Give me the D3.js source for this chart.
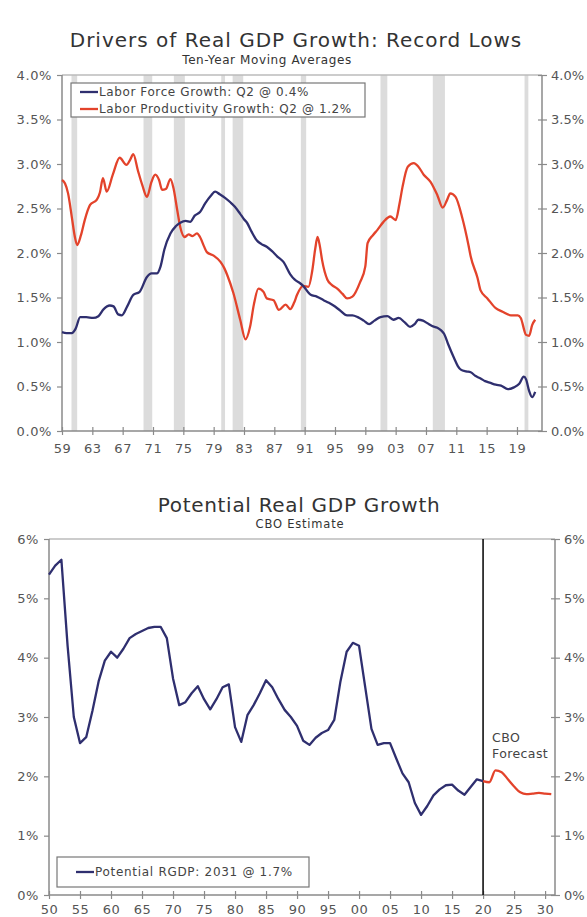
<!DOCTYPE html>
<html>
<head>
<meta charset="utf-8">
<script src="https://cdn.jsdelivr.net/npm/d3@7"></script>
<style>
  body { margin: 0; background: #fff; }
  svg { display: block; font-family: "DejaVu Sans", Verdana, sans-serif; }
</style>
</head>
<body>
<svg id="chart" width="587" height="917"></svg>
<script>
// ---- top chart data: ten-year moving averages, % ----
const lfYears = [1959.0,1959.6,1960.3,1960.8,1961.4,1962.2,1963.1,1963.8,1964.5,1965.3,1965.8,1966.4,1966.9,1967.6,1968.4,1969.2,1970.2,1970.8,1971.5,1972.0,1972.5,1973.3,1974.0,1974.6,1975.3,1975.9,1976.5,1977.2,1977.9,1978.6,1979.2,1979.8,1980.5,1981.2,1981.8,1982.5,1983.0,1983.4,1984.0,1984.7,1985.3,1986.0,1986.7,1987.4,1988.2,1989.1,1989.7,1990.4,1990.8,1991.8,1992.6,1993.5,1994.2,1994.8,1995.6,1996.6,1997.3,1998.0,1998.8,1999.5,2000.2,2001.0,2001.9,2002.7,2003.4,2004.2,2004.9,2005.5,2006.0,2006.6,2007.2,2007.8,2008.5,2009.0,2009.4,2009.9,2010.7,2011.2,2011.6,2012.3,2012.9,2013.5,2014.2,2014.8,2015.5,2016.2,2016.9,2017.8,2018.6,2019.3,2019.9,2020.2,2020.6,2021.0,2021.4];
const lfValues = [1.11,1.10,1.10,1.15,1.28,1.28,1.27,1.29,1.37,1.41,1.40,1.31,1.30,1.40,1.53,1.56,1.73,1.77,1.77,1.85,2.04,2.22,2.30,2.34,2.36,2.35,2.42,2.46,2.56,2.64,2.69,2.66,2.62,2.57,2.52,2.44,2.38,2.34,2.24,2.14,2.10,2.07,2.02,1.96,1.90,1.76,1.70,1.66,1.63,1.53,1.51,1.47,1.44,1.41,1.36,1.30,1.30,1.28,1.24,1.20,1.24,1.28,1.29,1.25,1.27,1.22,1.17,1.20,1.25,1.24,1.21,1.18,1.16,1.13,1.09,0.98,0.82,0.73,0.69,0.67,0.66,0.62,0.59,0.56,0.54,0.52,0.51,0.47,0.49,0.53,0.61,0.58,0.45,0.38,0.44];

const lpYears = [1959.0,1959.4,1959.8,1960.3,1960.7,1961.0,1961.5,1962.0,1962.7,1963.6,1964.0,1964.4,1964.9,1965.7,1966.6,1967.5,1968.0,1968.4,1969.0,1969.6,1970.2,1970.8,1971.3,1971.8,1972.2,1972.7,1973.3,1973.7,1974.2,1974.6,1975.2,1975.7,1976.2,1976.8,1977.2,1977.7,1978.1,1979.0,1979.9,1980.4,1980.8,1981.6,1982.5,1983.2,1983.8,1984.3,1984.9,1985.6,1986.0,1986.9,1987.6,1988.5,1989.1,1989.6,1990.0,1990.8,1991.5,1992.0,1992.4,1992.7,1993.0,1993.3,1994.0,1994.6,1995.3,1996.0,1996.6,1997.3,1998.3,1999.0,1999.3,2000.0,2000.6,2001.4,2002.3,2003.0,2003.5,2003.9,2004.6,2005.4,2006.0,2006.7,2007.6,2008.5,2009.2,2009.8,2010.2,2010.9,2011.8,2012.6,2012.9,2013.8,2014.2,2015.1,2016.2,2017.1,2018.2,2019.1,2019.5,2020.2,2020.6,2021.0,2021.4];
const lpValues = [2.82,2.78,2.67,2.40,2.18,2.09,2.20,2.37,2.54,2.60,2.68,2.84,2.69,2.88,3.07,2.99,3.05,3.11,2.93,2.76,2.63,2.80,2.88,2.82,2.71,2.72,2.83,2.73,2.48,2.29,2.18,2.21,2.19,2.22,2.18,2.08,2.01,1.97,1.90,1.83,1.75,1.55,1.25,1.03,1.17,1.42,1.60,1.56,1.49,1.47,1.36,1.42,1.37,1.44,1.53,1.63,1.62,1.80,2.05,2.18,2.08,1.92,1.70,1.64,1.60,1.54,1.49,1.51,1.67,1.85,2.11,2.20,2.26,2.35,2.41,2.37,2.55,2.74,2.97,3.01,2.97,2.88,2.80,2.65,2.51,2.60,2.67,2.63,2.39,2.09,1.96,1.72,1.58,1.49,1.38,1.34,1.30,1.30,1.27,1.08,1.07,1.19,1.25];

const recessions = [[1960.25,1961.0],[1969.75,1970.9],[1973.75,1975.2],[1980.0,1980.5],[1981.5,1982.9],[1990.5,1991.2],[2001.0,2001.9],[2007.9,2009.5],[2020.0,2020.5]];
const topTicksY = [0, 0.5, 1.0, 1.5, 2.0, 2.5, 3.0, 3.5, 4.0];
const topTicksX = [1959,1963,1967,1971,1975,1979,1983,1987,1991,1995,1999,2003,2007,2011,2015,2019];

// ---- bottom chart data: potential real GDP growth, % ----
const potYears = d3.range(1950, 2021);
const potValues = [5.40,5.55,5.65,4.20,3.00,2.56,2.66,3.10,3.60,3.95,4.10,4.00,4.15,4.33,4.40,4.45,4.50,4.52,4.52,4.33,3.65,3.20,3.25,3.40,3.52,3.30,3.13,3.30,3.50,3.55,2.83,2.58,3.03,3.20,3.40,3.62,3.50,3.30,3.12,3.00,2.85,2.60,2.53,2.65,2.73,2.78,2.95,3.60,4.10,4.25,4.20,3.50,2.80,2.53,2.56,2.56,2.30,2.05,1.90,1.55,1.35,1.50,1.68,1.78,1.85,1.86,1.76,1.69,1.82,1.95,1.92];
const fcYears = d3.range(2020, 2032);
const fcValues = [1.92,1.90,2.10,2.07,1.95,1.83,1.73,1.70,1.71,1.72,1.71,1.70];
const botTicksY = [0,1,2,3,4,5,6];
const botTicksX = [1950,1955,1960,1965,1970,1975,1980,1985,1990,1995,2000,2005,2010,2015,2020,2025,2030];

const BLUE = "#2f2f6f", RED = "#e3432b", AXIS = "#8a8a8a", TXT = "#555";

const svg = d3.select("#chart");

function yy(v) { return ("" + v).slice(-2).padStart(2, "0"); }

function frame(g, x, y, xTicks, yTicks, yFmt, xPad) {
  const [x0, x1] = x.range();
  const [y0, y1] = y.range();
  // top border
  g.append("line").attr("x1", x0).attr("x2", x1).attr("y1", y1).attr("y2", y1)
    .attr("stroke", "#bbb").attr("stroke-width", 1.5);
  const left = g.append("g").attr("transform", `translate(${x0},0)`)
    .call(d3.axisLeft(y).tickValues(yTicks).tickFormat(yFmt).tickSize(5).tickPadding(5));
  const right = g.append("g").attr("transform", `translate(${x1},0)`)
    .call(d3.axisRight(y).tickValues(yTicks).tickFormat(yFmt).tickSize(5).tickPadding(4));
  right.selectAll(".tick line").attr("x1", -4);
  const bottom = g.append("g").attr("transform", `translate(0,${y0})`)
    .call(d3.axisBottom(x).tickValues(xTicks).tickFormat(yy).tickSize(4).tickPadding(xPad));
  bottom.selectAll(".tick line").attr("y1", -4);
  [left, right, bottom].forEach(a => {
    a.select(".domain").attr("stroke", AXIS).attr("stroke-width", 1.5);
    a.selectAll(".tick line").attr("stroke", AXIS).attr("stroke-width", 1.2);
    a.selectAll("text").attr("fill", TXT).attr("font-size", 13).attr("letter-spacing", 0.6)
      .attr("font-family", "DejaVu Sans, Verdana, sans-serif");
  });
  // right labels sit at the page edge, keep them tight
  right.selectAll("text").attr("letter-spacing", 0);
  left.select(".domain").attr("d", `M0,${y0}V${y1}`);
  right.select(".domain").attr("d", `M0,${y0}V${y1}`);
  bottom.select(".domain").attr("d", `M${x0},0H${x1}`);
}

//----- top chart -----
const topG = svg.append("g");
const x1s = d3.scaleLinear().domain([1959, 2022.3]).range([62, 542]);
const y1s = d3.scaleLinear().domain([0, 4]).range([431, 75]);

topG.append("text").attr("x", 296).attr("y", 47).attr("text-anchor", "middle")
  .attr("font-size", 20).attr("letter-spacing", 1).attr("fill", "#333")
  .text("Drivers of Real GDP Growth: Record Lows");
topG.append("text").attr("x", 267).attr("y", 64).attr("text-anchor", "middle")
  .attr("font-size", 12).attr("letter-spacing", 0.6).attr("fill", "#333")
  .text("Ten-Year Moving Averages");

topG.selectAll("rect.rec").data(recessions).enter().append("rect")
  .attr("class", "rec")
  .attr("x", d => x1s(d[0]))
  .attr("width", d => x1s(d[1]) - x1s(d[0]))
  .attr("y", y1s(4)).attr("height", y1s(0) - y1s(4))
  .attr("fill", "#dcdcdc");

frame(topG, x1s, y1s, topTicksX, topTicksY, d => d.toFixed(1) + "%", 9);

const line1 = d3.line().x(d => x1s(d[0])).y(d => y1s(d[1])).curve(d3.curveMonotoneX);
topG.append("path").datum(d3.zip(lpYears, lpValues)).attr("d", line1)
  .attr("fill", "none").attr("stroke", RED).attr("stroke-width", 2.3);
topG.append("path").datum(d3.zip(lfYears, lfValues)).attr("d", line1)
  .attr("fill", "none").attr("stroke", BLUE).attr("stroke-width", 2.3);

const leg1 = topG.append("g");
leg1.append("rect").attr("x", 71).attr("y", 83).attr("width", 294).attr("height", 34)
  .attr("fill", "#fff").attr("stroke", "#777").attr("stroke-width", 1.2);
[["Labor Force Growth: Q2 @ 0.4%", BLUE], ["Labor Productivity Growth: Q2 @ 1.2%", RED]].forEach((d, i) => {
  const yy0 = 92 + i * 17;
  leg1.append("line").attr("x1", 80).attr("x2", 98).attr("y1", yy0).attr("y2", yy0)
    .attr("stroke", d[1]).attr("stroke-width", 2.3);
  leg1.append("text").attr("x", 99).attr("y", yy0 + 4).attr("font-size", 12)
    .attr("letter-spacing", 0.6).attr("fill", "#444").text(d[0]);
});

//----- bottom chart -----
const botG = svg.append("g");
const x2s = d3.scaleLinear().domain([1950, 2031.6]).range([49, 555]);
const y2s = d3.scaleLinear().domain([0, 6]).range([895, 539]);

botG.append("text").attr("x", 299).attr("y", 512).attr("text-anchor", "middle")
  .attr("font-size", 20).attr("letter-spacing", 0.7).attr("fill", "#333")
  .text("Potential Real GDP Growth");
botG.append("text").attr("x", 300).attr("y", 528).attr("text-anchor", "middle")
  .attr("font-size", 11.5).attr("letter-spacing", 0.8).attr("fill", "#333")
  .text("CBO Estimate");

frame(botG, x2s, y2s, botTicksX, botTicksY, d => d + "%", 6);

botG.append("line").attr("x1", x2s(2020)).attr("x2", x2s(2020))
  .attr("y1", y2s(6)).attr("y2", y2s(0)).attr("stroke", "#111").attr("stroke-width", 1.6);

const line2 = d3.line().x(d => x2s(d[0])).y(d => y2s(d[1]));
botG.append("path").datum(d3.zip(potYears, potValues)).attr("d", line2)
  .attr("fill", "none").attr("stroke", BLUE).attr("stroke-width", 2.3).attr("stroke-linejoin", "round");
botG.append("path").datum(d3.zip(fcYears, fcValues)).attr("d", line2.curve(d3.curveMonotoneX))
  .attr("fill", "none").attr("stroke", RED).attr("stroke-width", 2.3);

botG.append("text").attr("x", 492).attr("y", 742).attr("font-size", 12.5)
  .attr("letter-spacing", 0.4).attr("fill", "#444").text("CBO");
botG.append("text").attr("x", 492).attr("y", 758).attr("font-size", 12.5)
  .attr("letter-spacing", 0.4).attr("fill", "#444").text("Forecast");

const leg2 = botG.append("g");
leg2.append("rect").attr("x", 57).attr("y", 857).attr("width", 252).attr("height", 30)
  .attr("fill", "#fff").attr("stroke", "#777").attr("stroke-width", 1.2);
leg2.append("line").attr("x1", 76).attr("x2", 94).attr("y1", 872).attr("y2", 872)
  .attr("stroke", BLUE).attr("stroke-width", 2.3);
leg2.append("text").attr("x", 95).attr("y", 876).attr("font-size", 12)
  .attr("letter-spacing", 0.7).attr("fill", "#444")
  .text("Potential RGDP: 2031 @ 1.7%");
</script>
</body>
</html>
